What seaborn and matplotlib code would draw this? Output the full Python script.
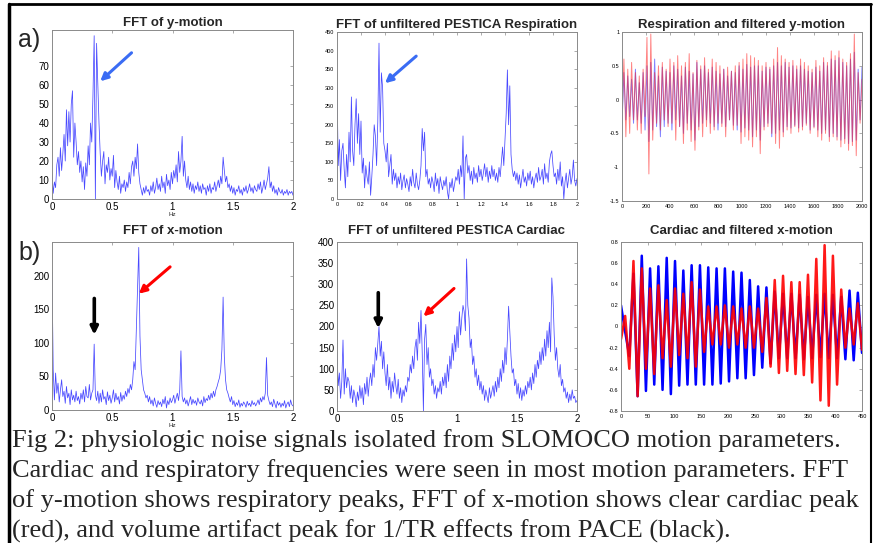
import numpy as np
import matplotlib
matplotlib.use("Agg")
import matplotlib.pyplot as plt
import seaborn as sns
from matplotlib.lines import Line2D

# frequency bins of the four spectra (0 - 2 Hz, 0.01 Hz step)
freqs = np.linspace(0, 2, 201)

# FFT of y-motion
y_motion_fft = [
    14, 3, 9, 6, 18, 22, 12, 27, 15, 24,
    34, 20, 47, 28, 46, 30, 50, 57, 22, 40,
    30, 18, 25, 14, 20, 9, 17, 5, 19, 12,
    28, 18, 40, 30, 55, 86, 0, 82, 60, 40,
    24, 12, 20, 25, 8, 18, 14, 22, 10, 16,
    12, 23, 6, 15, 9, 5, 12, 3, 8, 6,
    10, 4, 9, 6, 14, 8, 17, 20, 12, 22,
    16, 29, 14, 8, 5, 2, 6, 3, 7, 4,
    5, 2, 7, 4, 9, 3, 6, 11, 5, 8,
    4, 12, 6, 9, 3, 13, 7, 10, 5, 14,
    8, 15, 11, 18, 9, 25, 14, 20, 33, 12,
    20, 10, 6, 12, 5, 9, 4, 8, 3, 7,
    5, 9, 4, 7, 3, 8, 5, 6, 2, 7,
    4, 8, 3, 6, 5, 9, 4, 7, 10, 6,
    12, 8, 22, 15, 9, 12, 6, 8, 4, 7,
    3, 6, 2, 5, 4, 7, 3, 5, 2, 6,
    4, 7, 3, 5, 8, 4, 6, 3, 7, 5,
    4, 8, 5, 9, 3, 6, 10, 5, 8, 11,
    17, 6, 9, 4, 7, 3, 5, 2, 6, 4,
    3, 5, 2, 4, 3, 5, 2, 4, 3, 4,
    2]

# FFT of unfiltered PESTICA respiration
resp_fft = [
    315, 90, 160, 50, 130, 150, 80, 30, 120, 60,
    180, 100, 275, 130, 90, 200, 270, 150, 230, 120,
    210, 70, 110, 30, 90, 60, 40, 100, 10, 60,
    120, 200, 170, 90, 210, 420, 180, 340, 300, 150,
    130, 100, 150, 60, 90, 120, 40, 80, 50, 70,
    30, 60, 40, 70, 25, 50, 65, 30, 55, 40,
    20, 60, 35, 80, 45, 30, 70, 40, 25, 50,
    90, 190, 130, 180, 60, 80, 40, 55, 30, 60,
    45, 20, 70, 35, 55, 15, 60, 40, 25, 50,
    35, 60, 20, 0, 45, 30, 55, 20, 40, 60,
    50, 80, 40, 90, 60, 170, 0, 110, 120, 70,
    90, 50, 75, 40, 85, 55, 70, 45, 90, 60,
    80, 50, 70, 95, 60, 85, 45, 75, 55, 90,
    60, 80, 50, 70, 45, 85, 60, 100, 140, 90,
    160, 230, 348, 200, 305, 120, 80, 60, 75, 50,
    70, 40, 65, 30, 55, 80, 45, 60, 35, 70,
    50, 75, 40, 60, 30, 55, 70, 45, 85, 50,
    60, 80, 40, 95, 55, 70, 45, 100, 120, 130,
    90, 60, 70, 40, 80, 50, 100, 35, 60, 0,
    45, 70, 30, 55, 80, 40, 60, 105, 50, 35,
    55]

# FFT of x-motion
x_motion_fft = [
    205, 60, 15, 55, 25, 40, 12, 30, 45, 20,
    28, 10, 35, 18, 25, 8, 30, 15, 22, 12,
    28, 14, 20, 9, 25, 16, 30, 12, 35, 20,
    18, 38, 15, 25, 30, 98, 22, 14, 28, 10,
    25, 12, 30, 16, 20, 8, 27, 14, 22, 10,
    18, 30, 12, 25, 15, 20, 9, 26, 13, 22,
    16, 28, 20, 32, 25, 38, 30, 45, 72, 60,
    120, 180, 242, 110, 60, 45, 30, 25, 18, 22,
    12, 20, 9, 15, 6, 18, 10, 4, 14, 8,
    12, 5, 16, 9, 20, 3, 14, 8, 18, 11,
    15, 22, 10, 18, 25, 14, 30, 88, 20, 12,
    18, 9, 15, 6, 13, 20, 8, 16, 10, 14,
    7, 18, 12, 9, 15, 6, 20, 11, 17, 14,
    22, 15, 25, 18, 28, 20, 30, 35, 42, 48,
    60, 90, 168, 80, 45, 30, 25, 18, 12, 20,
    8, 14, 5, 11, 7, 15, 4, 10, 6, 12,
    9, 4, 13, 7, 10, 5, 14, 8, 11, 6,
    10, 15, 8, 18, 12, 20, 15, 25, 78, 22,
    14, 8, 12, 5, 16, 9, 3, 13, 7, 11,
    4, 10, 6, 14, 3, 9, 12, 5, 15, 8,
    6]

# FFT of unfiltered PESTICA cardiac
card_fft = [
    140, 60, 90, 30, 70, 168, 40, 100, 55, 80,
    70, 30, 60, 20, 50, 35, 10, 45, 25, 60,
    30, 55, 15, 65, 40, 80, 35, 70, 90, 60,
    110, 80, 150, 120, 160, 200, 130, 165, 100, 140,
    90, 60, 110, 50, 80, 30, 70, 45, 90, 60,
    40, 75, 30, 55, 20, 50, 35, 60, 45, 80,
    70, 110, 90, 130, 100, 150, 170, 120, 210, 160,
    238, 140, 0, 170, 205, 110, 150, 80, 100, 60,
    75, 40, 60, 30, 55, 45, 70, 40, 80, 60,
    90, 55, 110, 70, 130, 100, 160, 120, 180, 140,
    200, 150, 235, 180, 220, 250, 235, 190, 360, 250,
    220, 150, 170, 110, 130, 80, 100, 60, 85, 50,
    70, 40, 60, 25, 50, 35, 20, 55, 30, 45,
    60, 35, 70, 45, 80, 55, 100, 70, 120, 90,
    150, 110, 170, 248, 190, 130, 90, 100, 60, 75,
    40, 65, 30, 55, 25, 50, 35, 60, 40, 70,
    55, 80, 50, 90, 65, 110, 80, 120, 100, 140,
    110, 150, 120, 170, 130, 190, 150, 210, 140, 315,
    270, 180, 120, 150, 100, 80, 110, 60, 75, 45,
    55, 30, 45, 20, 40, 25, 50, 30, 35, 20,
    25]

# respiration (red) and filtered y-motion (blue), sample index 0-2000
resp_t = np.linspace(0, 2000, 126)
resp_red = [
    -0.30, 0.60, -0.55, 0.45, -0.50, 0.55, -0.30, 0.40, -0.45, 0.35,
    -0.50, 0.45, -0.25, 0.92, -1.10, 0.97, -0.60, 0.40, -0.35, 0.50,
    -0.45, 0.55, -0.30, 0.45, -0.40, 0.60, -0.35, 0.55, -0.60, 0.65,
    -0.40, 0.50, -0.65, 0.55, -0.45, 0.68, -0.62, 0.40, -0.75, 0.58,
    -0.45, 0.50, -0.55, 0.62, -0.40, 0.45, -0.50, 0.60, -0.45, 0.55,
    -0.35, 0.50, -0.40, 0.45, -0.55, 0.48, -0.30, 0.42, -0.45, 0.50,
    -0.38, 0.55, -0.65, 0.60, -0.55, 0.68, -0.60, 0.65, -0.70, 0.62,
    -0.55, 0.58, -0.80, 0.50, -0.45, 0.55, -0.40, 0.48, -0.50, 0.60,
    -0.65, 0.77, -0.72, 0.65, -0.55, 0.60, -0.45, 0.55, -0.50, 0.58,
    -0.40, 0.50, -0.48, 0.60, -0.45, 0.55, -0.38, 0.50, -0.50, 0.45,
    -0.42, 0.58, -0.55, 0.50, -0.60, 0.62, -0.50, 0.55, -0.62, 0.72,
    -0.55, 0.65, -0.60, 0.72, -0.70, 0.60, -0.65, 0.55, -0.75, 0.68,
    -0.68, 0.97, -0.83, 0.40, -0.35, 0.30]
resp_blue = [
    -0.35, 0.40, -0.30, 0.35, -0.25, 0.30, -0.35, 0.45, -0.30, 0.25,
    -0.35, 0.40, -0.45, 0.50, -0.62, 0.55, -0.45, 0.60, -0.40, 0.35,
    -0.55, 0.48, -0.40, 0.42, -0.35, 0.40, -0.45, 0.50, -0.30, 0.45,
    -0.40, 0.35, -0.50, 0.48, -0.35, 0.42, -0.45, 0.38, -0.60, 0.55,
    -0.40, 0.45, -0.35, 0.50, -0.30, 0.40, -0.35, 0.48, -0.40, 0.42,
    -0.45, 0.38, -0.35, 0.45, -0.40, 0.35, -0.30, 0.42, -0.38, 0.40,
    -0.45, 0.50, -0.48, 0.45, -0.42, 0.52, -0.45, 0.48, -0.55, 0.50,
    -0.45, 0.50, -0.60, 0.42, -0.40, 0.48, -0.35, 0.45, -0.55, 0.50,
    -0.50, 0.55, -0.45, 0.50, -0.48, 0.55, -0.40, 0.48, -0.42, 0.50,
    -0.38, 0.45, -0.42, 0.50, -0.40, 0.45, -0.35, 0.42, -0.45, 0.40,
    -0.40, 0.48, -0.45, 0.42, -0.50, 0.55, -0.45, 0.50, -0.55, 0.60,
    -0.50, 0.58, -0.55, 0.62, -0.60, 0.55, -0.58, 0.50, -0.65, 0.60,
    -0.62, 0.70, -0.60, 0.45, -0.30, 0.48]

# cardiac (red) and filtered x-motion (blue), sample index 0-450
card_t = np.linspace(0, 450, 59)
card_red = [
    -0.12, 0.10, -0.40, 0.62, -0.66, 0.55, -0.40, 0.36, -0.45, 0.39,
    -0.30, 0.25, -0.38, 0.36, -0.27, 0.31, -0.30, 0.42, -0.38, 0.35,
    -0.24, 0.19, -0.17, 0.19, -0.17, 0.20, -0.20, 0.19, -0.17, 0.17,
    -0.20, 0.19, -0.20, 0.17, -0.24, 0.27, -0.38, 0.44, -0.44, 0.48,
    -0.42, 0.42, -0.45, 0.42, -0.46, 0.49, -0.53, 0.64, -0.70, 0.77,
    -0.75, 0.67, -0.55, 0.35, -0.20, 0.17, -0.17, 0.22, -0.22]
card_blue = [
    0.20, -0.05, -0.28, 0.50, -0.66, 0.67, -0.61, 0.55, -0.55, 0.57,
    -0.60, 0.65, -0.64, 0.62, -0.56, 0.53, -0.55, 0.58, -0.55, 0.58,
    -0.55, 0.56, -0.55, 0.55, -0.54, 0.55, -0.52, 0.52, -0.49, 0.51,
    -0.49, 0.44, -0.46, 0.38, -0.39, 0.37, -0.35, 0.33, -0.30, 0.31,
    -0.30, 0.31, -0.30, 0.30, -0.31, 0.28, -0.30, 0.30, -0.29, 0.31,
    -0.30, 0.30, -0.30, 0.28, -0.31, 0.34, -0.32, 0.32, -0.25]

caption = ["Fig 2: physiologic noise signals isolated from SLOMOCO motion parameters.",
           "Cardiac and respiratory frequencies were seen in most motion parameters. FFT",
           "of y-motion shows respiratory peaks, FFT of x-motion shows clear cardiac peak",
           "(red), and volume artifact peak for 1/TR effects from PACE (black)."]

sns.set_style("white")
plt.rcParams['font.family'] = ['Liberation Sans', 'DejaVu Sans']

W, H = 875, 543
fig = plt.figure(figsize=(8.75, 5.43), dpi=100)

def make_ax(l, t, r, b):
    # pixel box -> figure fraction
    ax = fig.add_axes([l / W, 1 - b / H, (r - l) / W, (b - t) / H])
    for s in ax.spines.values():
        s.set_color('#8a8a8a')
        s.set_linewidth(0.7)
    ax.tick_params(direction='in', top=True, right=True, length=2, width=0.5,
                   pad=2, colors='#8a8a8a', labelcolor='black')
    return ax

ax1 = make_ax(52, 30, 293, 199)
ax2 = make_ax(337, 32, 577, 199)
ax3 = make_ax(622, 32, 862, 201)
ax4 = make_ax(52, 242, 293, 410)
ax5 = make_ax(337, 242, 577, 411)
ax6 = make_ax(621, 242, 862, 411)

spec_kw = dict(color='#1a1aff', linewidth=0.55, alpha=0.8)
sns.lineplot(x=freqs, y=y_motion_fft, ax=ax1, **spec_kw)
sns.lineplot(x=freqs, y=resp_fft, ax=ax2, **spec_kw)
sns.lineplot(x=freqs, y=x_motion_fft, ax=ax4, **spec_kw)
sns.lineplot(x=freqs, y=card_fft, ax=ax5, **spec_kw)

sns.lineplot(x=resp_t, y=resp_blue, ax=ax3, color='#3030ff', linewidth=0.7, alpha=0.6)
sns.lineplot(x=resp_t, y=resp_red, ax=ax3, color='#ff2020', linewidth=0.7, alpha=0.55)

sns.lineplot(x=card_t, y=card_blue, ax=ax6, color='#0000ff', linewidth=1.8,
             solid_joinstyle='round')
sns.lineplot(x=card_t, y=card_red, ax=ax6, color='#ff0000', linewidth=1.8, alpha=0.9,
             solid_joinstyle='round')

# axes limits / ticks
for ax in (ax1, ax4, ax5):
    ax.set_xlim(0, 2)
    ax.set_xticks([0, 0.5, 1, 1.5, 2])
    ax.set_xticklabels(['0', '0.5', '1', '1.5', '2'], fontsize=7)
ax1.set_ylim(0, 89)
ax1.set_yticks(range(0, 80, 10))
ax1.set_yticklabels([str(v) for v in range(0, 80, 10)], fontsize=7)
ax4.set_ylim(0, 250)
ax4.set_yticks(range(0, 250, 50))
ax4.set_yticklabels([str(v) for v in range(0, 250, 50)], fontsize=7)
ax5.set_ylim(0, 400)
ax5.set_yticks(range(0, 450, 50))
ax5.set_yticklabels([str(v) for v in range(0, 450, 50)], fontsize=7)

ax2.set_xlim(0, 2)
ax2.set_xticks(np.arange(0, 2.01, 0.2))
ax2.set_xticklabels(['0', '0.2', '0.4', '0.6', '0.8', '1', '1.2', '1.4', '1.6', '1.8', '2'], fontsize=4)
ax2.set_ylim(0, 450)
ax2.set_yticks(range(0, 500, 50))
ax2.set_yticklabels([str(v) for v in range(0, 500, 50)], fontsize=4)

ax3.set_xlim(0, 2000)
ax3.set_xticks(range(0, 2001, 200))
ax3.set_xticklabels([str(v) for v in range(0, 2001, 200)], fontsize=4)
ax3.set_ylim(-1.5, 1)
ax3.set_yticks([-1.5, -1, -0.5, 0, 0.5, 1])
ax3.set_yticklabels(['-1.5', '-1', '-0.5', '0', '0.5', '1'], fontsize=4)

ax6.set_xlim(0, 450)
ax6.set_xticks(range(0, 451, 50))
ax6.set_xticklabels([str(v) for v in range(0, 451, 50)], fontsize=4)
ax6.set_ylim(-0.8, 0.8)
ax6.set_yticks(np.arange(-0.8, 0.81, 0.2))
ax6.set_yticklabels(['-0.8', '-0.6', '-0.4', '-0.2', '0', '0.2', '0.4', '0.6', '0.8'], fontsize=4)

for ax in (ax1, ax4):
    ax.set_xlabel('Hz', fontsize=4.5, labelpad=0)
for ax in (ax2, ax3, ax5, ax6):
    ax.set_xlabel('')
for ax in (ax1, ax2, ax3, ax4, ax5, ax6):
    ax.set_ylabel('')

# titles
ttl = dict(fontsize=9.5, fontweight='bold')
ax1.set_title('FFT of y-motion', pad=3, **ttl)
ax2.set_title('FFT of unfiltered PESTICA Respiration', pad=3, **ttl)
ax3.set_title('Respiration and filtered y-motion', pad=3, **ttl)
ax4.set_title('FFT of x-motion', pad=6, **ttl)
ax5.set_title('FFT of unfiltered PESTICA Cardiac', pad=6, **ttl)
ax6.set_title('Cardiac and filtered x-motion', pad=6, **ttl)

# arrows
def arrow(ax, tail, head, col, lw=2.2):
    ax.annotate('', xy=head, xytext=tail,
                arrowprops=dict(arrowstyle='-|>', color=col, lw=lw,
                                mutation_scale=11, shrinkA=0, shrinkB=0))

arrow(ax1, (0.66, 77), (0.40, 62), '#3a6cf4')
arrow(ax2, (0.66, 385), (0.40, 312), '#3a6cf4')
arrow(ax4, (0.98, 213), (0.72, 173), '#ff0000')
arrow(ax4, (0.351, 166), (0.351, 112), 'black', lw=2.6)
arrow(ax5, (0.344, 280), (0.344, 196), 'black', lw=2.6)
arrow(ax5, (0.975, 290), (0.72, 224), '#ff0000')

fig.text(18 / W, 1 - 40 / H, 'a)', fontsize=18, va='center', ha='left')
fig.text(18 / W, 1 - 253 / H, 'b)', fontsize=18, va='center', ha='left')

# caption
for i, line in enumerate(caption):
    fig.text(12 / W, 1 - (441 + 30 * i) / H, line, fontsize=19.0,
             family='Liberation Serif', va='center', ha='left')

# frame around the figure
fig.add_artist(Line2D([9 / W, 9 / W], [0, 1 - 4 / H], color='black', lw=2.5, transform=fig.transFigure))
fig.add_artist(Line2D([9 / W, 871 / W], [1 - 4 / H, 1 - 4 / H], color='black', lw=2.0, transform=fig.transFigure))
fig.add_artist(Line2D([871 / W, 871 / W], [0, 1 - 4 / H], color='black', lw=1.5, transform=fig.transFigure))

plt.savefig("out.png", dpi=100)
